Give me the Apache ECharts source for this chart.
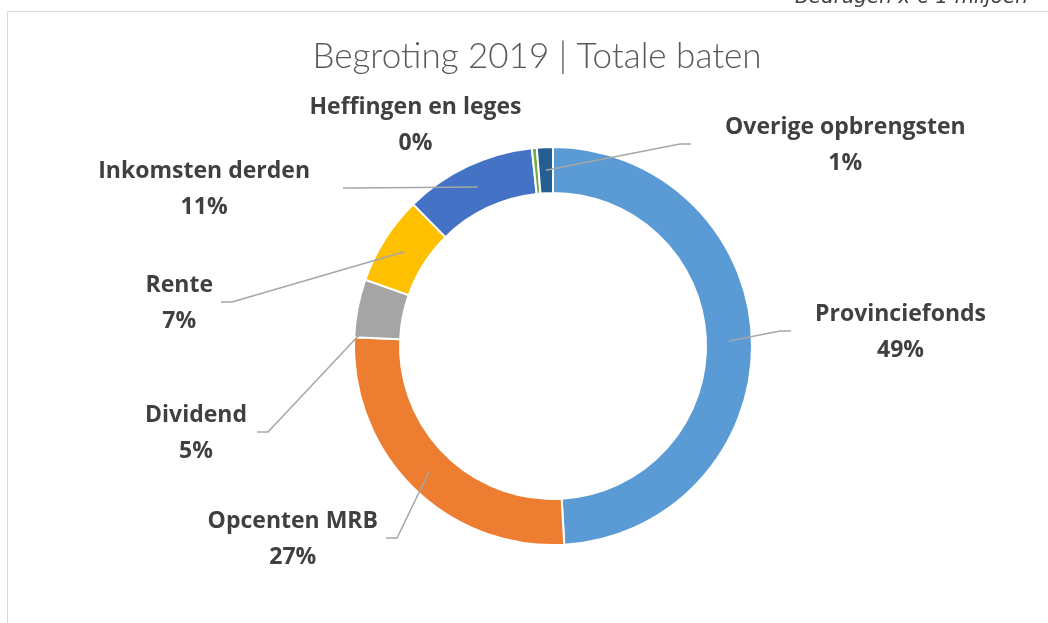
<!DOCTYPE html>
<html>
<head>
<meta charset="utf-8">
<script src="https://cdn.jsdelivr.net/npm/echarts@6/dist/echarts.min.js"></script>
<style>
html,body{margin:0;padding:0;background:#fff;}
#c{width:1048px;height:623px;}
</style>
</head>
<body>
<div id="c"></div>
<script>
// ---- data ----
const categories = ['Provinciefonds','Opcenten MRB','Dividend','Rente','Inkomsten derden','Heffingen en leges','Overige opbrengsten'];
const values = [49.1, 26.6, 4.7, 7.2, 10.7, 0.4, 1.3];
const colors = ['#5B9BD5','#ED7D31','#A5A5A5','#FFC000','#4472C4','#70AD47','#255E91'];
const titleText = 'Begroting 2019 | Totale baten';
const unitText = 'Bedragen x € 1 miljoen';

// ---- layout (label placement, not data) ----
const CX = 553, CY = 346, R0 = 153, R1 = 199;
const labelSpots = [
  {side:'r', edge:815, y:332, lineX:791},
  {side:'l', edge:378, y:539, lineX:386},
  {side:'l', edge:247, y:433, lineX:257},
  {side:'l', edge:213, y:303, lineX:221},
  {side:'l', edge:310, y:189, lineX:343},
  {side:'c', edge:415.5, y:125, lineX:null},
  {side:'r', edge:725, y:145, lineX:691}
];

const chart = echarts.init(document.getElementById('c'), null, {renderer:'canvas'});

function midDir(idx){
  const total = values.reduce((a,b)=>a+b,0);
  let cum = 0;
  for (let i=0;i<idx;i++) cum += values[i];
  const a = (cum + values[idx]/2)/total*2*Math.PI;
  return [Math.sin(a), -Math.cos(a)];
}

// leader lines (annotation) from the ring's middle at each slice's mid-angle to its label
const leaderLines = [];
labelSpots.forEach((s,i)=>{
  if (s.lineX === null) return;
  const d = midDir(i);
  const rm = (R0+R1)/2;
  const sx = CX + d[0]*rm, sy = CY + d[1]*rm;
  const ly = s.y - 1;
  const bx = s.side==='r' ? s.lineX - 11 : s.lineX + 11;
  leaderLines.push({
    type:'polyline', z:100, silent:true,
    shape:{points:[[sx,sy],[bx,ly],[s.lineX,ly]]},
    style:{stroke:'#A6A6A6', lineWidth:1.5, fill:null}
  });
});

const option = {
  backgroundColor:'#fff',
  animation:false,
  title:{
    text:titleText,
    left:532, top:34, textAlign:'center',
    textStyle:{fontFamily:'Lato', fontWeight:300, fontSize:35, color:'#595959'}
  },
  graphic:[
    {type:'rect', shape:{x:7.5, y:11.5, width:1200, height:800}, style:{fill:'none', stroke:'#D9D9D9', lineWidth:1}, silent:true},
    {type:'text', right:20, top:-12, style:{text:unitText, font:'italic 20px "DejaVu Sans"', fill:'#404040'}, silent:true}
  ].concat(leaderLines),
  series:[{
    type:'pie',
    center:[CX, CY],
    radius:[R0, R1],
    startAngle:90,
    clockwise:true,
    percentPrecision:0,
    avoidLabelOverlap:false,
    itemStyle:{borderColor:'#fff', borderWidth:2},
    label:{
      show:true, position:'outside',
      formatter:function(p){ return p.name + '\n' + Math.round(p.percent) + '%'; },
      fontFamily:'Open Sans', fontWeight:'bold', fontSize:23, lineHeight:36,
      color:'#404040', align:'center'
    },
    labelLine:{show:false},
    labelLayout:function(p){
      const s = labelSpots[p.dataIndex];
      const w = p.labelRect.width;
      let x;
      if (s.side==='r') x = s.edge + w/2;
      else if (s.side==='l') x = s.edge - w/2;
      else x = s.edge;
      return {x:x, y:s.y, align:'center', verticalAlign:'middle'};
    },
    data: categories.map((n,i)=>({
      name:n, value:values[i],
      itemStyle:{color:colors[i]}
    }))
  }]
};
chart.setOption(option);
</script>
</body>
</html>
